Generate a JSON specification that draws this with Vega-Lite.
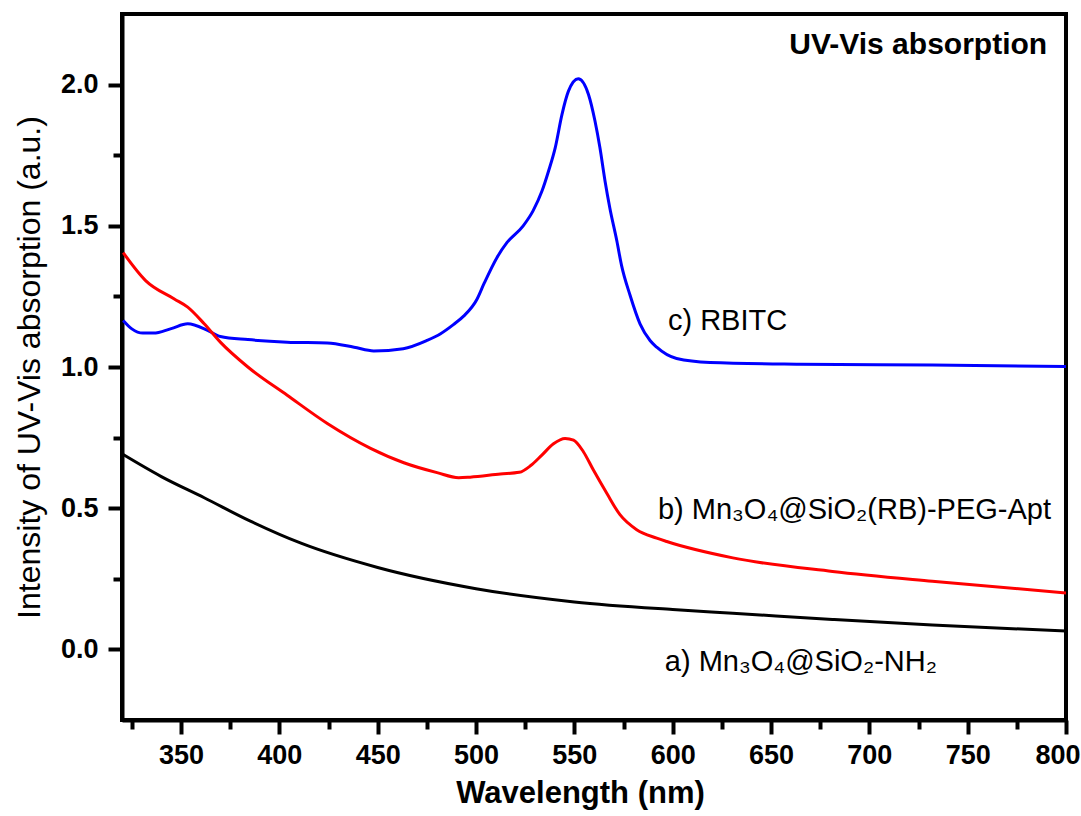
{
  "$schema": "https://vega.github.io/schema/vega-lite/v6.json",
  "width": 944,
  "height": 706,
  "autosize": {"type": "none"},
  "padding": {"left": 122, "top": 14, "right": 15, "bottom": 96},
  "background": "white",
  "config": {
    "view": {"stroke": "black", "strokeWidth": 4},
    "font": "Liberation Sans",
    "axis": {"grid": false, "domainColor": "black", "domainWidth": 4, "tickColor": "black", "tickWidth": 4, "labelColor": "black", "titleColor": "black", "labelFlush": false, "labelOverlap": false}
  },
  "datasets": {
    "spectra": [
      {"wl": 320.6, "v": 1.165, "s": "c"}, {"wl": 325, "v": 1.135, "s": "c"}, {"wl": 330.6, "v": 1.12, "s": "c"}, {"wl": 336, "v": 1.12, "s": "c"}, {"wl": 345, "v": 1.136, "s": "c"}, {"wl": 353.4, "v": 1.153, "s": "c"}, {"wl": 363.5, "v": 1.13, "s": "c"}, {"wl": 370, "v": 1.108, "s": "c"}, {"wl": 384, "v": 1.097, "s": "c"}, {"wl": 404, "v": 1.088, "s": "c"}, {"wl": 424.4, "v": 1.085, "s": "c"}, {"wl": 438, "v": 1.07, "s": "c"}, {"wl": 448, "v": 1.057, "s": "c"}, {"wl": 463, "v": 1.065, "s": "c"}, {"wl": 475, "v": 1.094, "s": "c"}, {"wl": 482, "v": 1.118, "s": "c"}, {"wl": 488.5, "v": 1.15, "s": "c"}, {"wl": 493.7, "v": 1.18, "s": "c"}, {"wl": 500.5, "v": 1.24, "s": "c"}, {"wl": 504, "v": 1.294, "s": "c"}, {"wl": 510.7, "v": 1.388, "s": "c"}, {"wl": 515.8, "v": 1.441, "s": "c"}, {"wl": 524, "v": 1.5, "s": "c"}, {"wl": 529, "v": 1.553, "s": "c"}, {"wl": 533.5, "v": 1.622, "s": "c"}, {"wl": 536.9, "v": 1.694, "s": "c"}, {"wl": 540.3, "v": 1.777, "s": "c"}, {"wl": 543.7, "v": 1.894, "s": "c"}, {"wl": 547, "v": 1.977, "s": "c"}, {"wl": 552, "v": 2.021, "s": "c"}, {"wl": 557.2, "v": 1.965, "s": "c"}, {"wl": 560.5, "v": 1.871, "s": "c"}, {"wl": 563, "v": 1.777, "s": "c"}, {"wl": 565.6, "v": 1.659, "s": "c"}, {"wl": 568, "v": 1.565, "s": "c"}, {"wl": 571.6, "v": 1.447, "s": "c"}, {"wl": 574, "v": 1.36, "s": "c"}, {"wl": 578.3, "v": 1.255, "s": "c"}, {"wl": 583.4, "v": 1.153, "s": "c"}, {"wl": 588.5, "v": 1.094, "s": "c"}, {"wl": 591.9, "v": 1.07, "s": "c"}, {"wl": 602, "v": 1.03, "s": "c"}, {"wl": 619, "v": 1.016, "s": "c"}, {"wl": 664.5, "v": 1.01, "s": "c"}, {"wl": 732, "v": 1.007, "s": "c"}, {"wl": 800, "v": 1.002, "s": "c"},
      {"wl": 320.6, "v": 1.405, "s": "b"}, {"wl": 332, "v": 1.306, "s": "b"}, {"wl": 346.6, "v": 1.241, "s": "b"}, {"wl": 353.4, "v": 1.212, "s": "b"}, {"wl": 361.8, "v": 1.153, "s": "b"}, {"wl": 370, "v": 1.088, "s": "b"}, {"wl": 384, "v": 1.0, "s": "b"}, {"wl": 404, "v": 0.9, "s": "b"}, {"wl": 424.4, "v": 0.8, "s": "b"}, {"wl": 446.4, "v": 0.712, "s": "b"}, {"wl": 463.3, "v": 0.661, "s": "b"}, {"wl": 480.2, "v": 0.626, "s": "b"}, {"wl": 491.2, "v": 0.608, "s": "b"}, {"wl": 497, "v": 0.61, "s": "b"}, {"wl": 512.4, "v": 0.621, "s": "b"}, {"wl": 522, "v": 0.627, "s": "b"}, {"wl": 528, "v": 0.652, "s": "b"}, {"wl": 533.5, "v": 0.688, "s": "b"}, {"wl": 539.4, "v": 0.728, "s": "b"}, {"wl": 545.3, "v": 0.747, "s": "b"}, {"wl": 549.6, "v": 0.741, "s": "b"}, {"wl": 554.6, "v": 0.7, "s": "b"}, {"wl": 559.7, "v": 0.635, "s": "b"}, {"wl": 566.5, "v": 0.553, "s": "b"}, {"wl": 573.2, "v": 0.477, "s": "b"}, {"wl": 581.7, "v": 0.424, "s": "b"}, {"wl": 591.9, "v": 0.394, "s": "b"}, {"wl": 597, "v": 0.382, "s": "b"}, {"wl": 630.6, "v": 0.324, "s": "b"}, {"wl": 681.3, "v": 0.276, "s": "b"}, {"wl": 732, "v": 0.241, "s": "b"}, {"wl": 800, "v": 0.2, "s": "b"},
      {"wl": 320.6, "v": 0.69, "s": "a"}, {"wl": 340, "v": 0.612, "s": "a"}, {"wl": 361.8, "v": 0.537, "s": "a"}, {"wl": 385, "v": 0.455, "s": "a"}, {"wl": 411, "v": 0.376, "s": "a"}, {"wl": 450, "v": 0.29, "s": "a"}, {"wl": 500, "v": 0.215, "s": "a"}, {"wl": 550, "v": 0.168, "s": "a"}, {"wl": 600, "v": 0.141, "s": "a"}, {"wl": 630.6, "v": 0.128, "s": "a"}, {"wl": 681.3, "v": 0.106, "s": "a"}, {"wl": 732, "v": 0.086, "s": "a"}, {"wl": 800, "v": 0.065, "s": "a"}
    ],
    "notes": [
      {"wl": 597.6, "v": 1.13, "label": "c) RBITC"},
      {"wl": 592.5, "v": 0.462, "label": "b) Mn₃O₄@SiO₂(RB)-PEG-Apt"},
      {"wl": 596, "v": -0.078, "label": "a) Mn₃O₄@SiO₂-NH₂"}
    ],
    "heading": [
      {"wl": 790.4, "v": 2.107, "label": "UV-Vis absorption"}
    ]
  },
  "layer": [
    {
      "data": {"name": "spectra"},
      "mark": {"type": "line", "strokeWidth": 3, "clip": true, "interpolate": "monotone"},
      "encoding": {
        "x": {
          "field": "wl", "type": "quantitative",
          "scale": {"domain": [320, 800], "nice": false, "zero": false},
          "axis": {"orient": "bottom", "values": [350, 400, 450, 500, 550, 600, 650, 700, 750, 800], "format": "d", "tickSize": 14, "labelFontSize": 27, "labelFontWeight": "bold", "labelPadding": 8, "labelFlush": true, "labelFlushOffset": 14, "title": "Wavelength (nm)", "titleFontSize": 31, "titleFontWeight": "bold", "titlePadding": 10, "titleX": 458}
        },
        "y": {
          "field": "v", "type": "quantitative",
          "scale": {"domain": [-0.25, 2.25], "nice": false, "zero": false},
          "axis": {"orient": "left", "values": [0, 0.5, 1, 1.5, 2], "format": ".1f", "tickSize": 14, "labelFontSize": 27, "labelFontWeight": "bold", "labelPadding": 10, "title": "Intensity of UV-Vis absorption (a.u.)", "titleFontSize": 32, "titleFontWeight": "normal", "titlePadding": 14}
        },
        "color": {"field": "s", "type": "nominal", "scale": {"domain": ["a", "b", "c"], "range": ["#000000", "#ff0000", "#0000ff"]}, "legend": null}
      }
    },
    {
      "data": {"name": "notes"},
      "mark": {"type": "text", "align": "left", "baseline": "alphabetic", "fontSize": 29, "color": "black"},
      "encoding": {
        "x": {"field": "wl", "type": "quantitative", "axis": {"orient": "bottom", "values": [325, 375, 425, 475, 525, 575, 625, 675, 725, 775], "tickSize": 9, "labels": false, "domain": false, "title": null}},
        "y": {"field": "v", "type": "quantitative", "axis": {"orient": "left", "values": [0.25, 0.75, 1.25, 1.75], "tickSize": 9, "labels": false, "domain": false, "title": null}},
        "text": {"field": "label"}
      }
    },
    {
      "data": {"name": "heading"},
      "mark": {"type": "text", "align": "right", "baseline": "alphabetic", "fontSize": 30, "fontWeight": "bold", "color": "black"},
      "encoding": {
        "x": {"field": "wl", "type": "quantitative", "axis": null},
        "y": {"field": "v", "type": "quantitative", "axis": null},
        "text": {"field": "label"}
      }
    }
  ],
  "resolve": {"axis": {"x": "independent", "y": "independent"}}
}
